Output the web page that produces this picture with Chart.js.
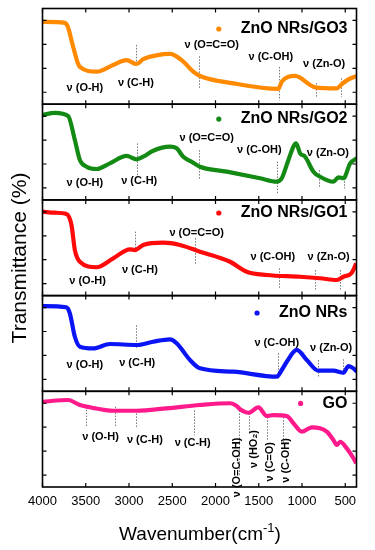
<!DOCTYPE html>
<html><head><meta charset="utf-8">
<script src="https://cdn.jsdelivr.net/npm/chart.js@4/dist/chart.umd.min.js"></script>
<style>html,body{margin:0;padding:0;background:#fff}canvas{display:block}</style>
</head><body>
<canvas id="c" width="375" height="550"></canvas>
<script>
// ---- data ----
const seriesNames = ['ZnO NRs/GO3', 'ZnO NRs/GO2', 'ZnO NRs/GO1', 'ZnO NRs', 'GO'];

const go3Wavenumber = [4000, 3742, 3707, 3646, 3591, 3568, 3375, 3183, 3028, 2912, 2836, 2681, 2527, 2391, 2257, 2179, 1794, 1273, 1234, 1080, 848, 597, 539, 463, 366];
const go3Transmittance = [86, 85, 81, 60, 42.7, 39, 34, 41, 46, 42, 47, 51, 52.5, 46, 34, 29.5, 21.8, 16, 23.5, 29.5, 17.6, 16.6, 21, 26, 29.5];

const go2Wavenumber = [4000, 3858, 3704, 3626, 3568, 3491, 3375, 3221, 3028, 2912, 2836, 2720, 2527, 2449, 2373, 2276, 2179, 1870, 1485, 1292, 1234, 1157, 1100, 1068, 1022, 964, 868, 791, 637, 579, 521, 443, 366];
const go2Transmittance = [88.7, 91, 87.7, 62.6, 41.7, 34.7, 32.3, 38.2, 45.9, 42.4, 45.1, 51.4, 55.6, 53.9, 45.1, 39.9, 34.7, 29.5, 22.6, 19, 22.6, 41.7, 55.6, 59.1, 48.7, 45.1, 29.5, 24.2, 19, 23.6, 22.6, 38.2, 43.5];

const go1Wavenumber = [4000, 3858, 3723, 3665, 3626, 3568, 3375, 3182, 2989, 2931, 2836, 2604, 2411, 2179, 1832, 1639, 1407, 1022, 791, 597, 521, 424, 374];
const go1Transmittance = [87.7, 86.6, 85.3, 73.8, 47.6, 35.4, 29.6, 39, 48.4, 47.6, 52.9, 55.3, 52.9, 45.9, 35.4, 25, 21.5, 19.7, 18.1, 16.3, 19.7, 23.9, 33.7];

const znoWavenumber = [4000, 3723, 3684, 3626, 3568, 3414, 3221, 2912, 2720, 2527, 2449, 2295, 2179, 1793, 1292, 1234, 1176, 1061, 945, 810, 637, 521, 463, 405, 366];
const znoTransmittance = [89.1, 87.8, 81.5, 57, 46.6, 44.9, 49.4, 48.4, 51.8, 54.3, 50.2, 32.7, 24, 20.5, 15.3, 22.3, 30.9, 43.2, 32.7, 21.5, 21.5, 19.4, 26.4, 24, 20.5];

const goWavenumber = [4000, 3704, 3568, 3452, 3182, 2912, 2565, 2179, 1832, 1755, 1716, 1620, 1504, 1407, 1330, 1176, 1099, 1003, 887, 791, 714, 637, 598, 559, 482, 405, 374];
const goTransmittance = [89.1, 90.9, 85.7, 83.3, 79.7, 79.7, 82.2, 85.7, 87.5, 84.6, 81.2, 77.6, 83.3, 74.2, 75.2, 74.2, 66.6, 57.8, 62.4, 61.3, 57.8, 49.1, 43.9, 47.3, 40.4, 30, 24.8];

const xTickLabels = [4000, 3500, 3000, 2500, 2000, 1500, 1000, 500];
const yTickValues = [12.5, 37.5, 62.5, 87.5];
const xTitle = 'Wavenumber(cm';
const xTitleSup = '-1';
const yTitle = 'Transmittance (%)';

// ---- annotation layout (panel, wavenumber, from, to in panel units) ----
const markerLines = [
  [0, 2920, 62, 41], [0, 2187, 50, 17], [0, 1262, 39, 4], [0, 837, 22, 7.5], [0, 551, 27, 7.5],
  [1, 2912, 59, 26], [1, 2187, 52, 21], [1, 1285, 40, 7], [1, 802, 31, 12], [1, 513, 22.6, 12],
  [2, 2932, 66.8, 47.6], [2, 2237, 60, 32], [2, 1262, 28.5, 7.6], [2, 848, 26.7, 5.8], [2, 559, 26.7, 5.8],
  [3, 2920, 69, 45], [3, 1273, 39.7, 13.6], [3, 810, 32.7, 15.3], [3, 521, 33.4, 17],
  [4, 3499, 84, 63], [4, 3163, 84, 63], [4, 2920, 80, 61], [4, 2249, 80, 54], [4, 1725, 80, 11], [4, 1609, 77, 56], [4, 1407, 73, 49], [4, 1222, 73, 45]
];
const markerLabels = [
  [0, 'ν (O-H)', 3510, 16.6], [0, 'ν (C-H)', 2920, 21.8], [0, 'ν (O=C=O)', 2044, 61.9], [0, 'ν (C-OH)', 1361, 49.6], [0, 'ν (Zn-O)', 744, 42],
  [1, 'ν (O-H)', 3510, 18], [1, 'ν (C-H)', 2882, 20], [1, 'ν (O=C=O)', 2102, 64.4], [1, 'ν (C-OH)', 1493, 52], [1, 'ν (Zn-O)', 701, 48.7],
  [2, 'ν (O-H)', 3479, 15.6], [2, 'ν (C-H)', 2874, 26.7], [2, 'ν (O=C=O)', 2218, 65], [2, 'ν (C-OH)', 1338, 40], [2, 'ν (Zn-O)', 693, 40],
  [3, 'ν (O-H)', 3510, 27.5], [3, 'ν (C-H)', 2905, 29.3], [3, 'ν (C-OH)', 1292, 50], [3, 'ν (Zn-O)', 663, 45],
  [4, 'ν (O-H)', 3329, 52], [4, 'ν (C-H)', 2816, 49], [4, 'ν (C-H)', 2264, 45.6]
];
const rotatedLabels = [
  [4, 'ν (O=C-OH)', 1755, 20.4], [4, 'ν (HO₂)', 1555, 39.7], [4, 'ν (C=O)', 1370, 26.4], [4, 'ν (C-OH)', 1185, 27.7]
];
const legendY = [78.6, 84.5, 86.3, 81.8, 87.3];

const seriesColors = ['#FF8A00', '#138A13', '#FF0A0A', '#0A14F5', '#FF1A8C'];
const FONT = '"Liberation Sans", Arial, Helvetica, sans-serif';

const xs = [go3Wavenumber, go2Wavenumber, go1Wavenumber, znoWavenumber, goWavenumber];
const ys = [go3Transmittance, go2Transmittance, go1Transmittance, znoTransmittance, goTransmittance];

const datasets = seriesNames.map((name, i) => ({
  label: name,
  data: xs[i].map((w, k) => ({x: w, y: ys[i][k]})),
  xAxisID: 'x',
  yAxisID: 'y' + i,
  borderColor: seriesColors[i],
  backgroundColor: seriesColors[i],
  borderWidth: 4.2,
  pointRadius: 0,
  fill: false,
  cubicInterpolationMode: 'monotone'
}));

const scales = {
  x: {
    type: 'linear', position: 'bottom', reverse: true, min: 370, max: 4000,
    afterBuildTicks: s => { s.ticks = xTickLabels.map(v => ({value: v})); },
    afterFit: s => { s.height = 63; },
    grid: {display: false, drawTicks: false},
    border: {display: false},
    ticks: {color: '#000', font: {family: FONT, size: 13}, padding: 7, maxRotation: 0, autoSkip: false,
            callback: v => String(v)}
  }
};
seriesNames.forEach((n, i) => {
  scales['y' + i] = {type: 'linear', position: 'left', min: 0, max: 100, stack: 'panels',
    stackWeight: 1, weight: 5 - i, offset: false, display: false};
});

const panelPlugin = {
  id: 'panels',
  beforeDatasetsDraw(chart) {
    const ctx = chart.ctx, x = chart.scales.x;
    ctx.save();
    ctx.strokeStyle = '#777';
    ctx.lineWidth = 1;
    ctx.setLineDash([1.5, 1.5]);
    markerLines.forEach(([p, w, a, b]) => {
      const y = chart.scales['y' + p];
      const px = Math.round(x.getPixelForValue(w)) + 0.5;
      ctx.beginPath();
      ctx.moveTo(px, y.getPixelForValue(a));
      ctx.lineTo(px, y.getPixelForValue(b));
      ctx.stroke();
    });
    ctx.restore();
  },
  afterDatasetsDraw(chart) {
    const ctx = chart.ctx, x = chart.scales.x, area = chart.chartArea;
    ctx.save();
    ctx.strokeStyle = '#000';
    ctx.fillStyle = '#000';
    seriesNames.forEach((n, i) => {
      const y = chart.scales['y' + i];
      ctx.lineWidth = 1.6;
      ctx.strokeRect(area.left, y.top, area.right - area.left, y.bottom - y.top);
      ctx.lineWidth = 1.2;
      ctx.beginPath();
      yTickValues.forEach(v => {
        const py = y.getPixelForValue(v);
        ctx.moveTo(area.left, py); ctx.lineTo(area.left + 4, py);
        ctx.moveTo(area.right, py); ctx.lineTo(area.right - 4, py);
      });
      xTickLabels.forEach(v => {
        const px = x.getPixelForValue(v);
        ctx.moveTo(px, y.top); ctx.lineTo(px, y.top + 4);
        ctx.moveTo(px, y.bottom); ctx.lineTo(px, y.bottom - 4);
      });
      ctx.stroke();
      const ly = y.getPixelForValue(legendY[i]);
      ctx.font = 'bold 16px ' + FONT;
      ctx.textAlign = 'right';
      ctx.textBaseline = 'middle';
      ctx.fillText(n, area.right - 9, ly);
      const tw = ctx.measureText(n).width;
      ctx.fillStyle = seriesColors[i];
      ctx.beginPath();
      ctx.arc(area.right - 9 - tw - 22, ly, 2.6, 0, Math.PI * 2);
      ctx.fill();
      ctx.fillStyle = '#000';
    });
    ctx.font = 'bold 11px ' + FONT;
    ctx.textAlign = 'center';
    ctx.textBaseline = 'middle';
    markerLabels.forEach(([p, t, w, v]) => {
      ctx.fillText(t, x.getPixelForValue(w), chart.scales['y' + p].getPixelForValue(v));
    });
    rotatedLabels.forEach(([p, t, w, v]) => {
      ctx.save();
      ctx.translate(x.getPixelForValue(w), chart.scales['y' + p].getPixelForValue(v));
      ctx.rotate(-Math.PI / 2);
      ctx.fillText(t, 0, 0);
      ctx.restore();
    });
    ctx.font = '19px ' + FONT;
    ctx.textBaseline = 'middle';
    ctx.textAlign = 'left';
    const w1 = ctx.measureText(xTitle).width;
    ctx.font = '13px ' + FONT;
    const w2 = ctx.measureText(xTitleSup).width;
    ctx.font = '19px ' + FONT;
    const w3 = ctx.measureText(')').width;
    let sx = 200 - (w1 + w2 + w3) / 2;
    const ty = 535;
    ctx.fillText(xTitle, sx, ty);
    ctx.font = '13px ' + FONT;
    ctx.fillText(xTitleSup, sx + w1, ty - 7);
    ctx.font = '19px ' + FONT;
    ctx.fillText(')', sx + w1 + w2, ty);
    ctx.save();
    ctx.font = '21px ' + FONT;
    ctx.translate(20, 258);
    ctx.rotate(-Math.PI / 2);
    ctx.textAlign = 'center';
    ctx.fillText(yTitle, 0, 0);
    ctx.restore();
    ctx.restore();
  }
};

new Chart(document.getElementById('c'), {
  type: 'line',
  data: {datasets},
  options: {
    responsive: false,
    devicePixelRatio: 1,
    animation: false,
    layout: {padding: {left: 42.5, right: 18.5, top: 8.5, bottom: 0}},
    plugins: {legend: {display: false}, tooltip: {enabled: false}},
    scales
  },
  plugins: [panelPlugin]
});
</script>
</body></html>
